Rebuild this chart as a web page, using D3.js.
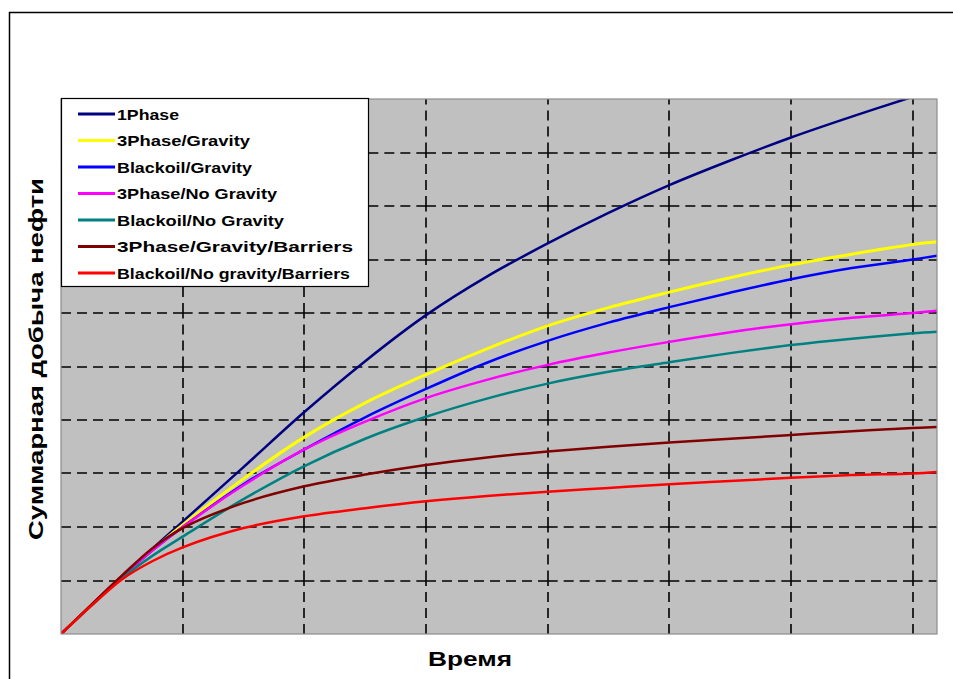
<!DOCTYPE html>
<html>
<head>
<meta charset="utf-8">
<script src="https://cdn.jsdelivr.net/npm/d3@7"></script>
<style>
  html, body { margin: 0; padding: 0; background: #fff; }
  svg { display: block; }
  text { font-family: "Liberation Sans", Arial, sans-serif; font-weight: bold; }
</style>
</head>
<body>
<svg id="chart" width="953" height="679"></svg>
<script>
// ---- data ----
const timeValues = [0, 0.25, 0.5, 0.75, 1, 1.5, 2, 2.5, 3, 3.5, 4, 4.5, 5, 5.5, 6, 6.5, 7, 7.2];
const seriesNames = ["1Phase", "3Phase/Gravity", "Blackoil/Gravity", "3Phase/No Gravity",
  "Blackoil/No Gravity", "3Phase/Gravity/Barriers", "Blackoil/No gravity/Barriers"];
const seriesColors = ["#000080", "#ffff00", "#0000ff", "#ff00ff", "#008080", "#800000", "#ff0000"];
const onePhase       = [0, 0.54, 1.07, 1.59, 2.1, 3.12, 4.15, 5.1, 5.96, 6.68, 7.3, 7.87, 8.39, 8.85, 9.28, 9.67, 10.04, 10.18];
const threeGravity   = [0, 0.54, 1.07, 1.57, 2.04, 2.9, 3.68, 4.32, 4.85, 5.33, 5.76, 6.1, 6.39, 6.66, 6.9, 7.1, 7.28, 7.33];
const blackGravity   = [0, 0.54, 1.07, 1.56, 2.0, 2.8, 3.45, 4.05, 4.58, 5.07, 5.48, 5.82, 6.11, 6.38, 6.63, 6.84, 7.0, 7.07];
const threeNoGrav    = [0, 0.54, 1.07, 1.56, 2.0, 2.78, 3.45, 3.97, 4.41, 4.75, 5.03, 5.26, 5.46, 5.64, 5.79, 5.91, 6.0, 6.04];
const blackNoGrav    = [0, 0.53, 1.04, 1.46, 1.82, 2.52, 3.14, 3.65, 4.06, 4.4, 4.68, 4.9, 5.08, 5.25, 5.4, 5.52, 5.62, 5.65];
const threeBarriers  = [0, 0.55, 1.09, 1.6, 1.98, 2.45, 2.76, 2.98, 3.16, 3.3, 3.41, 3.5, 3.58, 3.65, 3.72, 3.79, 3.85, 3.87];
const blackBarriers  = [0, 0.53, 1.02, 1.36, 1.62, 1.98, 2.2, 2.35, 2.48, 2.58, 2.66, 2.73, 2.8, 2.86, 2.92, 2.97, 3.0, 3.03];
const seriesValues = [onePhase, threeGravity, blackGravity, threeNoGrav, blackNoGrav, threeBarriers, blackBarriers];
const xTicks = [1, 2, 3, 4, 5, 6, 7];
const yTicks = [1, 2, 3, 4, 5, 6, 7, 8, 9];
const xLabel = "Время";
const yLabel = "Суммарная добыча нефти";

// ---- layout ----
const svg = d3.select("#chart");
const L = 61, R = 937, T = 99, B = 634;
const x = d3.scaleLinear().domain([0, 7.2]).range([L, R]);
const y = d3.scaleLinear().domain([0, 10]).range([B, T]);

// outer frame
svg.append("rect").attr("x", 9.5).attr("y", 12.5).attr("width", 1000).attr("height", 1000)
  .attr("fill", "none").attr("stroke", "#000").attr("stroke-width", 1.5);

// plot background
svg.append("rect").attr("x", L).attr("y", T).attr("width", R - L).attr("height", B - T)
  .attr("fill", "#c0c0c0");

// grid: segments between neighbouring grid lines so dash pattern restarts
const gridG = svg.append("g").attr("stroke", "#000").attr("stroke-width", 1.6)
  .attr("stroke-dasharray", "10,6").attr("fill", "none");
const xB = [0, ...xTicks, 7.2];
const yB = [0, ...yTicks, 10];
yTicks.forEach(v => {
  for (let i = 0; i < xB.length - 1; i++) {
    gridG.append("line").attr("x1", x(xB[i])).attr("x2", x(xB[i + 1]))
      .attr("y1", Math.round(y(v))).attr("y2", Math.round(y(v)));
  }
});
xTicks.forEach(t => {
  for (let i = 0; i < yB.length - 1; i++) {
    gridG.append("line").attr("x1", Math.round(x(t))).attr("x2", Math.round(x(t)))
      .attr("y1", y(yB[i])).attr("y2", y(yB[i + 1]));
  }
});

// clip
svg.append("clipPath").attr("id", "clip").append("rect")
  .attr("x", L).attr("y", T).attr("width", R - L).attr("height", B - T);

const line = d3.line().x((d, i) => x(timeValues[i])).y(d => y(d)).curve(d3.curveCatmullRom.alpha(0.5));
const linesG = svg.append("g").attr("clip-path", "url(#clip)");
seriesValues.forEach((vals, k) => {
  linesG.append("path").attr("d", line(vals)).attr("fill", "none")
    .attr("stroke", seriesColors[k]).attr("stroke-width", k === 1 ? 3 : 2.5)
    .attr("stroke-linejoin", "round");
});

// plot border
svg.append("rect").attr("x", L).attr("y", T).attr("width", R - L).attr("height", B - T)
  .attr("fill", "none").attr("stroke", "#8c8c8c").attr("stroke-width", 1.2);

// legend
const lg = svg.append("g");
lg.append("rect").attr("x", 61.5).attr("y", 98.5).attr("width", 307).attr("height", 188)
  .attr("fill", "#fff").attr("stroke", "#000").attr("stroke-width", 1.2);
const legendW = [62, 133, 135, 160, 167, 236, 233];
seriesNames.forEach((name, k) => {
  const yy = 114 + k * 26.5;
  lg.append("line").attr("x1", 78).attr("x2", 115).attr("y1", yy).attr("y2", yy)
    .attr("stroke", seriesColors[k]).attr("stroke-width", 3);
  lg.append("text").attr("x", 117).attr("y", yy + 5.5).attr("font-size", 15)
    .attr("textLength", legendW[k]).attr("lengthAdjust", "spacingAndGlyphs")
    .attr("fill", "#000").text(name);
});

// axis titles
svg.append("text").attr("x", 470).attr("y", 666).attr("text-anchor", "middle")
  .attr("font-size", 21).attr("textLength", 84).attr("lengthAdjust", "spacingAndGlyphs")
  .text(xLabel);
svg.append("text").attr("transform", "translate(43,359) rotate(-90)").attr("text-anchor", "middle")
  .attr("font-size", 21).attr("textLength", 362).attr("lengthAdjust", "spacingAndGlyphs")
  .text(yLabel);
</script>
</body>
</html>
